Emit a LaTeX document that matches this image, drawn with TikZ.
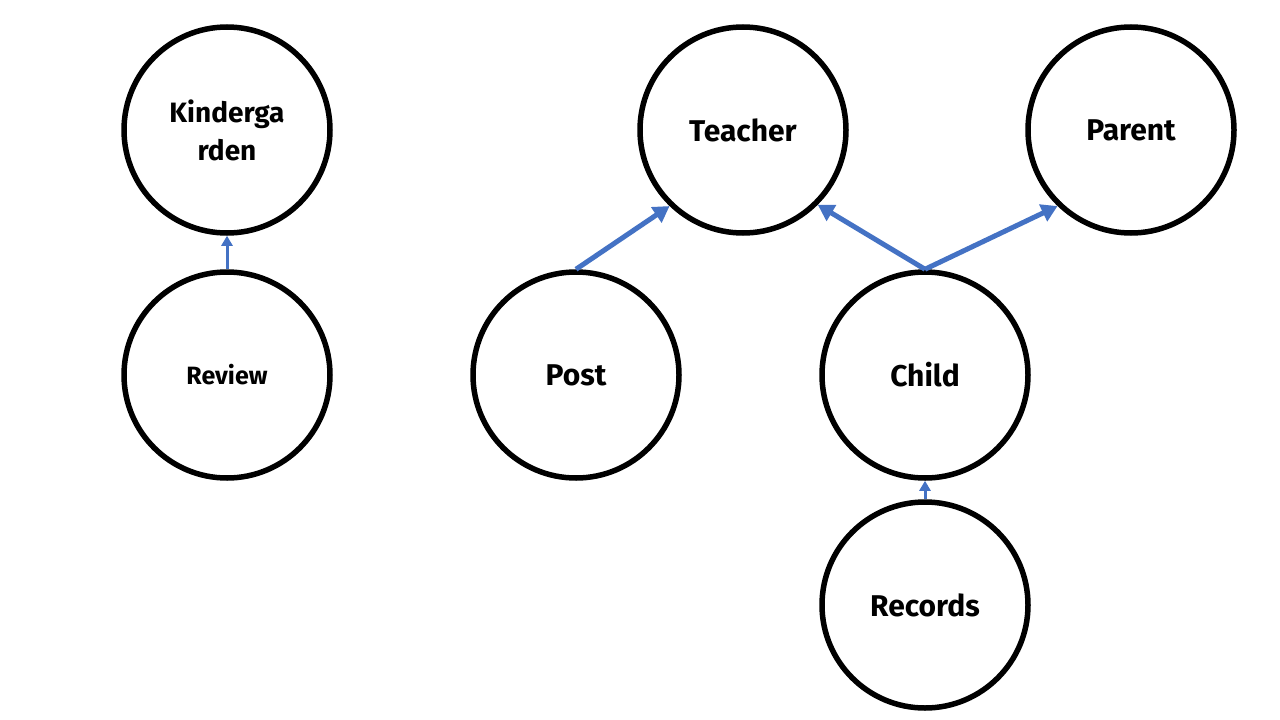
\documentclass[tikz,border=0pt]{standalone}
\usepackage{fontspec}
\setmainfont{Fira Sans}
\usetikzlibrary{arrows.meta}
\begin{document}
\begin{tikzpicture}[x=1pt,y=-1pt,
  ent/.style={circle,draw=black,line width=5.5pt,minimum size=206pt,inner sep=0pt,align=center,font=\bfseries\fontsize{30}{36}\selectfont},
  link/.style={draw={rgb,255:red,68;green,114;blue,196},line width=5pt,-{Triangle[length=16pt,width=18pt]}},
  thin/.style={draw={rgb,255:red,68;green,114;blue,196},line width=3pt,-{Triangle[length=10pt,width=11pt]}}]
\useasboundingbox (0,0) rectangle (1280,720);
\node[ent,font=\bfseries\fontsize{28}{38}\selectfont] (kg) at (227,130) {Kinderga\\rden};
\node[ent] (teacher) at (743,130) {Teacher};
\node[ent] (parent) at (1131,130) {Parent};
\node[ent,font=\bfseries\fontsize{25}{30}\selectfont] (review) at (227,375) {Review};
\node[ent] (post) at (576,375) {Post};
\node[ent] (child) at (925,375) {Child};
\node[ent] (records) at (925,605) {Records};
\draw[thin] (review.north) -- (kg.south);
\draw[link] (post.north) -- (teacher.-134);
\draw[link] (child.north) -- (teacher.-45);
\draw[link] (child.north) -- (parent.-134);
\draw[thin] (records.north) -- (child.south);
\end{tikzpicture}
\end{document}
